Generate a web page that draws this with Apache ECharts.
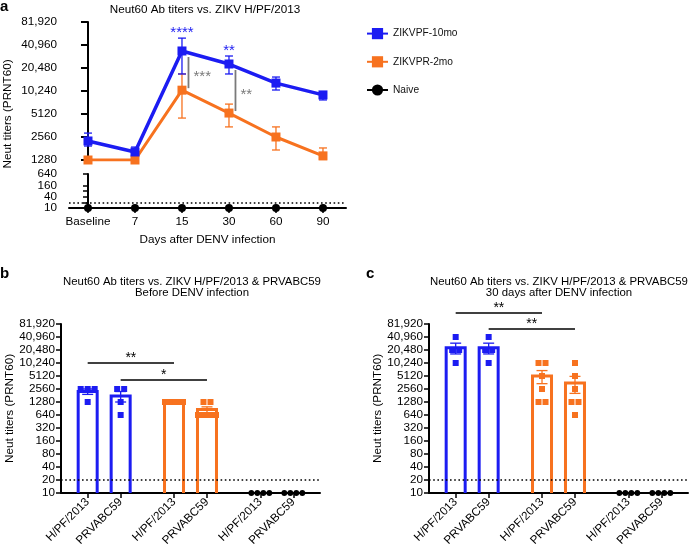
<!DOCTYPE html>
<html><head><meta charset="utf-8">
<script src="https://cdn.jsdelivr.net/npm/echarts@6/dist/echarts.min.js"></script>
<style>html,body{margin:0;padding:0;background:#fff}#c{width:692px;height:550px}</style>
</head><body><div id="c"></div>
<script>
// ---------- Panel a data ----------
const daysA = ['Baseline', '7', '15', '30', '60', '90'];
const pfMean = [2270, 1630, 34200, 23100, 13000, 9100];
const pfLow  = [1950, 1490, 17100, 17100, 10550, 7820];
const pfHigh = [2880, 1890, 50400, 29400, 15600, 9920];
const prMean = [1280, 1280, 10500, 5270, 2560, 1450];
const prLow  = [1280, 1280, 4530, 3470, 1730, 1300];
const prHigh = [1280, 1280, 17100, 6900, 3470, 1840];
const naiveA = [10, 10, 10, 10, 10, 10];
const lodValue = 20;
const ticksAUpper = [1280, 2560, 5120, 10240, 20480, 40960, 81920];
const labelsAUpper = ['1280', '2560', '5120', '10,240', '20,480', '40,960', '81,920'];
const ticksALower = [10, 20, 40, 80, 160, 640];
const labelsALowerOdd = [10, 160];
const labelsALowerEven = [40, 640];
const sigADays = [2, 3];
const sigAVsNaive = ['****', '**'];
const sigAVsPR = ['***', '**'];

// ---------- Panels b / c data ----------
const groupsBC = ['ZIKVPF-10mo', 'ZIKVPR-2mo', 'Naive'];
const strainsBC = ['H/PF/2013', 'PRVABC59'];
const ticksBC = [10, 20, 40, 80, 160, 320, 640, 1280, 2560, 5120, 10240, 20480, 40960, 81920];
const labelsBC = ['10', '20', '40', '80', '160', '320', '640', '1280', '2560', '5120', '10,240', '20,480', '40,960', '81,920'];
// before DENV infection (b)
const bPF_HPF = [2560, 2560, 2560, 1280];
const bPF_PRV = [2560, 2560, 1280, 640];
const bPR_HPF = [1280, 1280, 1280, 1280, 1280, 1280];
const bPR_PRV = [1280, 1280, 640, 640, 640, 640];
const bNa_HPF = [10, 10, 10, 10];
const bNa_PRV = [10, 10, 10, 10];
const sigBPairs = [[0, 2], [1, 3]];
const sigBLevel = [10240, 4130];
const sigBText = ['**', '*'];
// 30 days after DENV infection (c)
const cPF_HPF = [40960, 20480, 20480, 10240];
const cPF_PRV = [40960, 20480, 20480, 10240];
const cPR_HPF = [10240, 10240, 5120, 2560, 1280, 1280];
const cPR_PRV = [10240, 5120, 2560, 1280, 1280, 640];
const cNa_HPF = [10, 10, 10, 10];
const cNa_PRV = [10, 10, 10, 10];
const sigCPairs = [[0, 2], [1, 3]];
const sigCLevel = [147000, 62700];
const sigCText = ['**', '**'];

// ---------- styling ----------
const BLUE = '#1c1cf2', ORANGE = '#f7721f', BLACK = '#000', GRAY = '#7a7a7a';
const COLORS = [BLUE, ORANGE, BLACK];
const FONT = '"Liberation Sans", Arial, Helvetica, sans-serif';
const FS = 11.7;
const OFF = 0.191; // bar offset from group centre (axis units)

function labelFor(ticks, labels) {
  return function (v) {
    let best = 0, bd = Infinity;
    ticks.forEach((t, i) => { const d = Math.abs(Math.log(t) - Math.log(v)); if (d < bd) { bd = d; best = i; } });
    return String(labels[best]);
  };
}

function meanOf(a) { return a.reduce((s, v) => s + v, 0) / a.length; }
function semOf(a) {
  const m = meanOf(a); if (a.length < 2) return 0;
  const v = a.reduce((s, x) => s + (x - m) * (x - m), 0) / (a.length - 1);
  return Math.sqrt(v) / Math.sqrt(a.length);
}
function barX(i) { const g = Math.floor(i / 2), s = i % 2; return g + 0.5 + (s ? OFF : -OFF); }

function axisLine() { return { show: true, lineStyle: { color: BLACK, width: 2 } }; }

function panelSeries(gi, dotSets, pairs, levels, texts) {
  const barData = dotSets.map((d, i) => {
    const m = meanOf(d), s = semOf(d);
    return [barX(i), m, Math.max(m - s, 10), m + s, Math.floor(i / 2)];
  });
  const dotData = [];
  dotSets.forEach((d, i) => {
    const counts = {};
    d.forEach(v => { counts[v] = (counts[v] || 0) + 1; });
    const seen = {};
    d.forEach(v => {
      const n = counts[v], k = seen[v] = (seen[v] || 0) + 1;
      const sp = n > 1 ? Math.min(7, 18 / (n - 1)) : 0;
      dotData.push([barX(i), v, (k - 1 - (n - 1) / 2) * sp, Math.floor(i / 2)]);
    });
  });
  const sigData = pairs.map((p, i) => [barX(p[0]), barX(p[1]), levels[i], i]);
  return [
    {
      type: 'custom', xAxisIndex: gi, yAxisIndex: gi, silent: true, z: 3,
      data: barData, encode: { x: 0, y: 1 },
      renderItem: function (params, api) {
        const x = api.value(0), m = api.value(1), lo = api.value(2), hi = api.value(3), col = COLORS[api.value(4)];
        const top = api.coord([x, m]), base = api.coord([x, 10]);
        const ch = [];
        const hw = 9.5;
        if (m > 10.01) {
          ch.push({ type: 'polyline', shape: { points: [[top[0] - hw, base[1]], [top[0] - hw, top[1]], [top[0] + hw, top[1]], [top[0] + hw, base[1]]] },
            style: { stroke: col, lineWidth: 3, fill: null } });
        }
        if (hi > lo * 1.001 && m > 10.01) {
          const a = api.coord([x, lo]), b = api.coord([x, hi]);
          ch.push({ type: 'line', shape: { x1: a[0], y1: a[1], x2: b[0], y2: b[1] }, style: { stroke: col, lineWidth: 1.3 } });
          ch.push({ type: 'line', shape: { x1: a[0] - 5.5, y1: a[1], x2: a[0] + 5.5, y2: a[1] }, style: { stroke: col, lineWidth: 1.3 } });
          ch.push({ type: 'line', shape: { x1: b[0] - 5.5, y1: b[1], x2: b[0] + 5.5, y2: b[1] }, style: { stroke: col, lineWidth: 1.3 } });
        }
        return { type: 'group', children: ch };
      }
    },
    {
      type: 'custom', xAxisIndex: gi, yAxisIndex: gi, silent: true, z: 4,
      data: dotData, encode: { x: 0, y: 1 },
      renderItem: function (params, api) {
        const p = api.coord([api.value(0), api.value(1)]);
        const off = api.value(2), ci = api.value(3);
        if (ci === 2) return { type: 'circle', shape: { cx: p[0] + off, cy: p[1], r: 2.9 }, style: { fill: BLACK } };
        return { type: 'rect', shape: { x: p[0] + off - 3, y: p[1] - 3, width: 6, height: 6 }, style: { fill: COLORS[ci] } };
      }
    },
    {
      type: 'custom', xAxisIndex: gi, yAxisIndex: gi, silent: true, z: 4,
      data: sigData, encode: { x: 0, y: 2 },
      renderItem: function (params, api) {
        const a = api.coord([api.value(0), api.value(2)]), b = api.coord([api.value(1), api.value(2)]);
        return { type: 'group', children: [
          { type: 'line', shape: { x1: a[0], y1: a[1], x2: b[0], y2: b[1] }, style: { stroke: BLACK, lineWidth: 1.5 } },
          { type: 'text', style: { x: (a[0] + b[0]) / 2, y: a[1] + 2, text: texts[api.value(3)], align: 'center', verticalAlign: 'bottom', font: '14px ' + FONT, fill: BLACK } }
        ] };
      }
    },
    {
      type: 'line', xAxisIndex: gi, yAxisIndex: gi, data: [], silent: true,
      markLine: { silent: true, symbol: ['none', 'none'], label: { show: false },
        lineStyle: { color: BLACK, type: [1.6, 2.6], width: 1.6 }, data: [{ yAxis: lodValue }] }
    }
  ];
}

function bcXAxis(gi) {
  const pos = [0, 1, 2, 3, 4, 5].map(barX);
  return {
    gridIndex: gi, type: 'value', min: 0, max: 3,
    axisLine: axisLine(), splitLine: { show: false },
    axisTick: { show: true, customValues: pos, length: 5, lineStyle: { color: BLACK, width: 1.5 } },
    axisLabel: { customValues: pos, rotate: 45, fontSize: FS, fontFamily: FONT, color: BLACK, margin: 7,
      formatter: function (v) { let best = 0, bd = Infinity; pos.forEach((p, i) => { if (Math.abs(p - v) < bd) { bd = Math.abs(p - v); best = i; } }); return strainsBC[best % 2]; } }
  };
}
function bcYAxis(gi) {
  return {
    gridIndex: gi, type: 'log', logBase: 2, min: 10, max: 81920,
    axisLine: axisLine(), splitLine: { show: false },
    axisTick: { show: true, customValues: ticksBC, length: 5, lineStyle: { color: BLACK, width: 1.5 } },
    axisLabel: { customValues: ticksBC, fontSize: FS, fontFamily: FONT, color: BLACK, margin: 6, formatter: labelFor(ticksBC, labelsBC) },
    name: 'Neut titers (PRNT60)', nameLocation: 'middle', nameGap: 39,
    nameTextStyle: { fontSize: FS, fontFamily: FONT, color: BLACK }
  };
}
function lowerLabelAxis(vals, showLine) {
  return { gridIndex: 1, type: 'log', logBase: 2, min: 10, max: 640, position: 'left',
    axisLine: showLine ? axisLine() : { show: false }, splitLine: { show: false },
    axisTick: showLine ? { show: true, customValues: ticksALower, length: 5, lineStyle: { color: BLACK, width: 1.5 } } : { show: false },
    axisLabel: { customValues: vals, showMinLabel: true, showMaxLabel: true, hideOverlap: false,
      fontSize: FS, fontFamily: FONT, color: BLACK, margin: 12, formatter: labelFor(vals, vals) } };
}

const xMinA = -0.404, xMaxA = 5.49;
const idxA = daysA.map((d, i) => i);

const chart = echarts.init(document.getElementById('c'), null, { renderer: 'canvas' });
const option = {
  backgroundColor: '#fff',
  animation: false,
  textStyle: { fontFamily: FONT },
  grid: [
    { left: 69, top: 22, width: 277, height: 138 },
    { left: 69, top: 174, width: 277, height: 34 },
    { left: 61, top: 324, width: 259, height: 169 },
    { left: 429, top: 324, width: 259, height: 169 }
  ],
  legend: {
    data: ['ZIKVPF-10mo', 'ZIKVPR-2mo', 'Naive'], orient: 'vertical', left: 366, top: 28, padding: 0,
    itemWidth: 21, itemHeight: 14, itemGap: 17, selectedMode: false,
    textStyle: { fontSize: 10.2, fontFamily: FONT, color: '#111' }
  },
  xAxis: [
    { gridIndex: 0, type: 'value', min: xMinA, max: xMaxA, show: false },
    { gridIndex: 1, type: 'value', min: xMinA, max: xMaxA, axisLine: axisLine(), splitLine: { show: false },
      axisTick: { show: true, customValues: idxA, length: 5, lineStyle: { color: BLACK, width: 1.5 } },
      axisLabel: { customValues: idxA, fontSize: FS, fontFamily: FONT, color: BLACK, margin: 8, formatter: v => daysA[Math.round(v)] },
      name: 'Days after DENV infection', nameLocation: 'middle', nameGap: 26,
      nameTextStyle: { fontSize: FS, fontFamily: FONT, color: BLACK } },
    bcXAxis(2), bcXAxis(3)
  ],
  yAxis: [
    { gridIndex: 0, type: 'log', logBase: 2, min: 1280, max: 81920, axisLine: axisLine(), splitLine: { show: false },
      axisTick: { show: true, customValues: ticksAUpper, length: 7, lineStyle: { color: BLACK, width: 2 } },
      axisLabel: { customValues: ticksAUpper, fontSize: FS, fontFamily: FONT, color: BLACK, margin: 12, formatter: labelFor(ticksAUpper, labelsAUpper) } },
    lowerLabelAxis(labelsALowerOdd, true),
    bcYAxis(2), bcYAxis(3),
    lowerLabelAxis(labelsALowerEven, false)
  ],
  graphic: [
    { type: 'text', x: 0, y: -1, style: { text: 'a', font: 'bold 15px ' + FONT, fill: BLACK } },
    { type: 'text', x: 0, y: 266, style: { text: 'b', font: 'bold 15px ' + FONT, fill: BLACK } },
    { type: 'text', x: 366, y: 266, style: { text: 'c', font: 'bold 15px ' + FONT, fill: BLACK } },
    { type: 'text', x: 205, y: 10, style: { text: 'Neut60 Ab titers vs. ZIKV H/PF/2013', align: 'center', verticalAlign: 'middle', font: FS + 'px ' + FONT, fill: BLACK } },
    { type: 'text', x: 192, y: 287, style: { text: 'Neut60 Ab titers vs. ZIKV H/PF/2013 & PRVABC59\nBefore DENV infection', align: 'center', verticalAlign: 'middle', lineHeight: 11, font: '11.4px ' + FONT, fill: BLACK } },
    { type: 'text', x: 559, y: 287, style: { text: 'Neut60 Ab titers vs. ZIKV H/PF/2013 & PRVABC59\n30 days after DENV infection', align: 'center', verticalAlign: 'middle', lineHeight: 11, font: '11.4px ' + FONT, fill: BLACK } },
    { type: 'text', x: 8, y: 114, rotation: Math.PI / 2, style: { text: 'Neut titers (PRNT60)', align: 'center', verticalAlign: 'middle', font: FS + 'px ' + FONT, fill: BLACK } }
  ],
  series: [
    { type: 'custom', name: 'prErr', xAxisIndex: 0, yAxisIndex: 0, silent: true, z: 2,
      data: prMean.map((m, i) => [i, prLow[i], prHigh[i]]), encode: { x: 0, y: 1 },
      renderItem: errRender(ORANGE) },
    { type: 'line', name: 'ZIKVPR-2mo', xAxisIndex: 0, yAxisIndex: 0, z: 3,
      data: prMean.map((v, i) => [i, v]), symbol: 'rect', symbolSize: 9,
      lineStyle: { color: ORANGE, width: 3 }, itemStyle: { color: ORANGE } },
    { type: 'custom', name: 'pfErr', xAxisIndex: 0, yAxisIndex: 0, silent: true, z: 4,
      data: pfMean.map((m, i) => [i, pfLow[i], pfHigh[i]]), encode: { x: 0, y: 1 },
      renderItem: errRender(BLUE) },
    { type: 'line', name: 'ZIKVPF-10mo', xAxisIndex: 0, yAxisIndex: 0, z: 5,
      data: pfMean.map((v, i) => [i, v]), symbol: 'rect', symbolSize: 9,
      lineStyle: { color: BLUE, width: 3.5 }, itemStyle: { color: BLUE } },
    { type: 'line', name: 'Naive', xAxisIndex: 1, yAxisIndex: 1, z: 5,
      data: naiveA.map((v, i) => [i, v]), symbol: 'circle', symbolSize: 8,
      lineStyle: { color: BLACK, width: 2 }, itemStyle: { color: BLACK },
      markLine: { silent: true, symbol: ['none', 'none'], label: { show: false },
        lineStyle: { color: BLACK, type: [1.6, 2.6], width: 1.6 }, data: [{ yAxis: lodValue }] } },
    { type: 'custom', name: 'sigA', xAxisIndex: 0, yAxisIndex: 0, silent: true, z: 6,
      data: sigADays.map((d, i) => [d, pfHigh[d], pfMean[d], prMean[d], i]), encode: { x: 0, y: 1 },
      renderItem: function (params, api) {
        const d = api.value(0), k = api.value(4);
        const top = api.coord([d, api.value(1)]);
        const pf = api.coord([d, api.value(2)]), pr = api.coord([d, api.value(3)]);
        const lx = pf[0] + 6.5;
        return { type: 'group', children: [
          { type: 'text', style: { x: top[0], y: top[1] + 2, text: sigAVsNaive[k], align: 'center', verticalAlign: 'bottom', font: '15px ' + FONT, fill: BLUE } },
          { type: 'line', shape: { x1: lx, y1: pf[1] + 6, x2: lx, y2: pr[1] - 2 }, style: { stroke: GRAY, lineWidth: 1.8 } },
          { type: 'text', style: { x: lx + 5, y: (pf[1] + pr[1]) / 2 + 6, text: sigAVsPR[k], align: 'left', verticalAlign: 'middle', font: '15px ' + FONT, fill: GRAY } }
        ] };
      } }
  ]
    .concat(panelSeries(2, [bPF_HPF, bPF_PRV, bPR_HPF, bPR_PRV, bNa_HPF, bNa_PRV], sigBPairs, sigBLevel, sigBText))
    .concat(panelSeries(3, [cPF_HPF, cPF_PRV, cPR_HPF, cPR_PRV, cNa_HPF, cNa_PRV], sigCPairs, sigCLevel, sigCText))
};

function errRender(col) {
  return function (params, api) {
    const x = api.value(0), lo = api.value(1), hi = api.value(2);
    if (hi <= lo * 1.001) return null;
    const a = api.coord([x, lo]), b = api.coord([x, hi]);
    return { type: 'group', children: [
      { type: 'line', shape: { x1: a[0], y1: a[1], x2: b[0], y2: b[1] }, style: { stroke: col, lineWidth: 1.3 } },
      { type: 'line', shape: { x1: a[0] - 4, y1: a[1], x2: a[0] + 4, y2: a[1] }, style: { stroke: col, lineWidth: 1.3 } },
      { type: 'line', shape: { x1: b[0] - 4, y1: b[1], x2: b[0] + 4, y2: b[1] }, style: { stroke: col, lineWidth: 1.3 } }
    ] };
  };
}

chart.setOption(option);
</script>
</body></html>
